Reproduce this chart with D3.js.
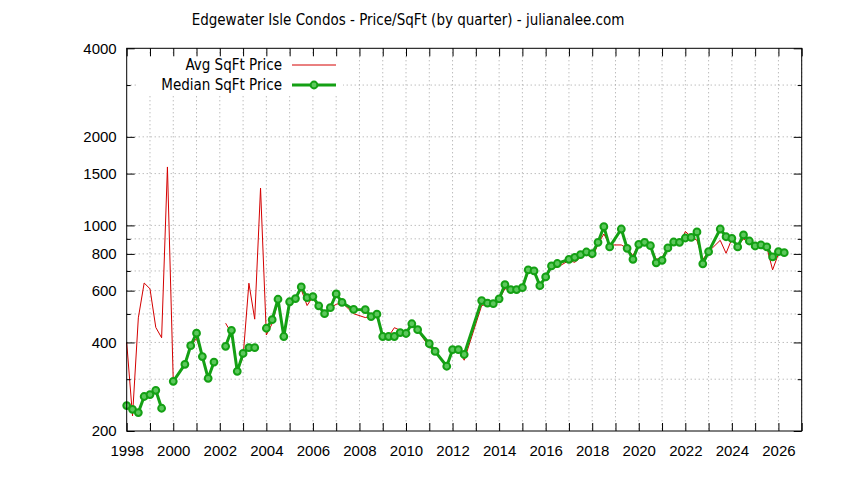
<!DOCTYPE html>
<html>
<head>
<meta charset="utf-8">
<script src="https://d3js.org/d3.v7.min.js"></script>
<style>
  body { margin: 0; background: #fff; }
  svg { display: block; font-family: "DejaVu Sans Condensed", "DejaVu Sans", sans-serif; }
  .axis path { display: none; }
  .axis line { stroke: #000; }
  .axis text { font-size: 15px; fill: #000; }
  .grid line { stroke: #a0a0a0; stroke-dasharray: 1,3; }
</style>
</head>
<body>
<script>
// quarter (as decimal year), avg $/sqft, median $/sqft ; null = no sale that quarter (line breaks)
const quarters = [
  1998.0, 1998.25, 1998.5, 1998.75, 1999.0, 1999.25, 1999.5, 1999.75,
  2000.0, 2000.5, 2000.75, 2001.0, 2001.25, 2001.5, 2001.75, 2002.0,
  2002.25, 2002.5, 2002.75, 2003.0, 2003.25, 2003.5, 2003.75,
  2004.0, 2004.25, 2004.5, 2004.75, 2005.0, 2005.25, 2005.5, 2005.75,
  2006.0, 2006.25, 2006.5, 2006.75, 2007.0, 2007.25, 2007.75,
  2008.25, 2008.5, 2008.75, 2009.0, 2009.25, 2009.5, 2009.75,
  2010.0, 2010.25, 2010.5, 2011.0, 2011.25, 2011.75,
  2012.0, 2012.25, 2012.5, 2013.25, 2013.5, 2013.75,
  2014.0, 2014.25, 2014.5, 2014.75, 2015.0, 2015.25, 2015.5, 2015.75,
  2016.0, 2016.25, 2016.5, 2017.0, 2017.25, 2017.5, 2017.75,
  2018.0, 2018.25, 2018.5, 2018.75, 2019.25, 2019.5, 2019.75,
  2020.0, 2020.25, 2020.5, 2020.75, 2021.0, 2021.25, 2021.5, 2021.75,
  2022.0, 2022.25, 2022.5, 2022.75, 2023.0, 2023.5, 2023.75,
  2024.0, 2024.25, 2024.5, 2024.75, 2025.0, 2025.25, 2025.5, 2025.75,
  2026.0, 2026.25
];
const avgPrice = [
  400, 225, 485, 637, 609, 450, 415, 1580,
  296, 337, 388, 413, 358, 302, 343, null,
  465, 430, 319, 357, 636, 480, 1339,
  424, 464, 550, 425, 540, 564, 605, 534,
  573, 520, 510, 525, 539, 546, 501,
  486, 490, 499, 419, 419, 449, 440,
  429, 460, 440, 386, 371, 332,
  376, 378, 348, 534, 540, 540,
  560, 609, 604, 604, 615, 690, 700, 624,
  660, 720, 720, 760, 749, 779, 798,
  774, 865, 935, 858, 858, 836, 790,
  866, 870, 853, 766, 779, 841, 870, 853,
  954, 915, 890, 766, 814, 890, 804,
  900, 853, 900, 870, 848, 858, 843, 706,
  800, 805
];
const medianPrice = [
  244, 237, 231, 262, 266, 275, 239, null,
  295, 337, 390, 430, 358, 302, 343, null,
  388, 440, 319, 367, 384, 384, null,
  447, 478, 561, 419, 550, 564, 618, 568,
  573, 533, 501, 525, 585, 547, 518,
  517, 490, 499, 419, 419, 419, 432,
  429, 463, 442, 396, 373, 332,
  378, 378, 364, 555, 544, 542,
  563, 629, 605, 605, 614, 706, 700, 624,
  668, 728, 742, 767, 779, 795, 812,
  802, 876, 990, 845, 972, 836, 767,
  862, 876, 853, 746, 761, 838, 878, 876,
  906, 910, 950, 740, 814, 972, 915,
  903, 845, 928, 885, 851, 858, 845, 781,
  814, 808
];
const yearTicks = d3.range(1998, 2028);
const yMajor = [200, 400, 600, 800, 1000, 1500, 2000, 4000];
const yMinor = [300, 500, 700, 900, 3000];

const width = 844;
const height = 480;
const plotL = 126.7, plotR = 801.7, plotT = 48.3, plotB = 431;

const svg = d3.select("body").append("svg")
  .attr("width", width)
  .attr("height", height);

const x = d3.scaleLinear().domain([1998, 2027]).range([plotL, plotR]);
const y = d3.scaleLog().domain([200, 4000]).range([plotB, plotT]);

// grid
const grid = svg.append("g").attr("class", "grid");
grid.selectAll("line.gx")
  .data(yearTicks.filter(d => d > 1998))
  .join("line")
  .attr("class", "gx")
  .attr("x1", d => x(d)).attr("x2", d => x(d))
  .attr("y1", plotT).attr("y2", plotB);
grid.selectAll("line.gy")
  .data(yMajor.concat(yMinor).filter(d => d > 200 && d < 4000))
  .join("line")
  .attr("class", "gy")
  .attr("x1", plotL).attr("x2", plotR)
  .attr("y1", d => y(d)).attr("y2", d => y(d));

// series
const avgPts = quarters.map((q, i) => [q, avgPrice[i]]);
const medPts = quarters.map((q, i) => [q, medianPrice[i]]);
const line = d3.line()
  .defined(d => d[1] != null)
  .x(d => x(d[0]))
  .y(d => y(d[1]));

svg.append("path")
  .datum(avgPts)
  .attr("fill", "none")
  .attr("stroke", "#d40000")
  .attr("stroke-width", 1)
  .attr("d", line);

svg.append("path")
  .datum(medPts)
  .attr("fill", "none")
  .attr("stroke", "#14a014")
  .attr("stroke-width", 3)
  .attr("stroke-linejoin", "round")
  .attr("d", line);

svg.selectAll("circle.med")
  .data(medPts.filter(d => d[1] != null))
  .join("circle")
  .attr("class", "med")
  .attr("cx", d => x(d[0]))
  .attr("cy", d => y(d[1]))
  .attr("r", 3.4)
  .attr("fill", "#5cc85c")
  .attr("stroke", "#14a014")
  .attr("stroke-width", 2);

// key (opaque box)
svg.append("rect")
  .attr("x", 137).attr("y", 55)
  .attr("width", 206).attr("height", 40)
  .attr("fill", "#fff");

const key = svg.append("g").attr("font-size", 15);
key.append("text")
  .attr("x", 282).attr("y", 70)
  .attr("text-anchor", "end")
  .text("Avg SqFt Price");
key.append("text")
  .attr("x", 282).attr("y", 90)
  .attr("text-anchor", "end")
  .text("Median SqFt Price");
key.append("line")
  .attr("x1", 292).attr("x2", 336).attr("y1", 65).attr("y2", 65)
  .attr("stroke", "#d40000");
key.append("line")
  .attr("x1", 292).attr("x2", 336).attr("y1", 85).attr("y2", 85)
  .attr("stroke", "#14a014").attr("stroke-width", 3);
key.append("circle")
  .attr("cx", 314).attr("cy", 85).attr("r", 3.4)
  .attr("fill", "#5cc85c").attr("stroke", "#14a014").attr("stroke-width", 2);

// axes (ticks point inward, mirrored on all sides)
svg.append("g")
  .attr("class", "axis")
  .attr("transform", `translate(0,${plotB})`)
  .call(d3.axisBottom(x).tickValues(yearTicks)
    .tickFormat(d => (d % 2 === 0 && d < 2027 ? d : ""))
    .tickSizeInner(-8).tickSizeOuter(0).tickPadding(14));
svg.append("g")
  .attr("class", "axis")
  .attr("transform", `translate(0,${plotT})`)
  .call(d3.axisTop(x).tickValues(yearTicks).tickFormat("")
    .tickSizeInner(-8).tickSizeOuter(0));
svg.append("g")
  .attr("class", "axis")
  .attr("transform", `translate(${plotL},0)`)
  .call(d3.axisLeft(y).tickValues(yMajor).tickFormat(d3.format("d"))
    .tickSizeInner(-8).tickSizeOuter(0).tickPadding(10));
svg.append("g")
  .attr("class", "axis")
  .attr("transform", `translate(${plotL},0)`)
  .call(d3.axisLeft(y).tickValues(yMinor).tickFormat("")
    .tickSizeInner(-4).tickSizeOuter(0));
svg.append("g")
  .attr("class", "axis")
  .attr("transform", `translate(${plotR},0)`)
  .call(d3.axisRight(y).tickValues(yMajor).tickFormat("")
    .tickSizeInner(-8).tickSizeOuter(0));
svg.append("g")
  .attr("class", "axis")
  .attr("transform", `translate(${plotR},0)`)
  .call(d3.axisRight(y).tickValues(yMinor).tickFormat("")
    .tickSizeInner(-4).tickSizeOuter(0));

// border
svg.append("rect")
  .attr("x", plotL).attr("y", plotT)
  .attr("width", plotR - plotL).attr("height", plotB - plotT)
  .attr("fill", "none")
  .attr("stroke", "#000");

// title
svg.append("text")
  .attr("x", 408).attr("y", 25)
  .attr("text-anchor", "middle")
  .attr("font-size", 15)
  .text("Edgewater Isle Condos - Price/SqFt (by quarter) - julianalee.com");
</script>
</body>
</html>
